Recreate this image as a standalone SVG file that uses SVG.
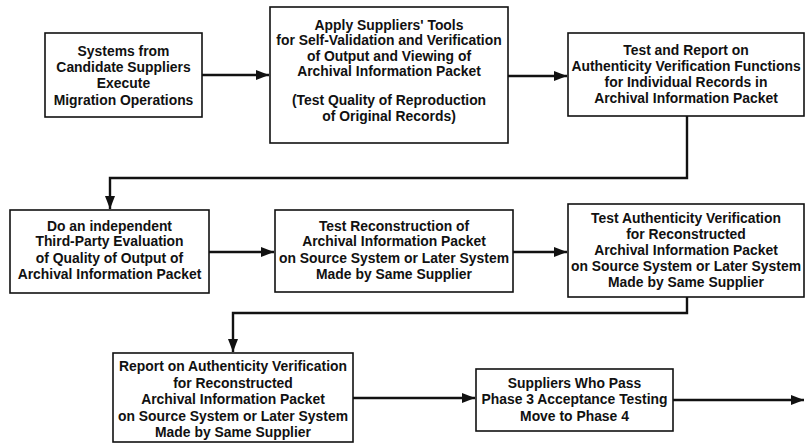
<svg xmlns="http://www.w3.org/2000/svg" width="805" height="445" viewBox="0 0 805 445">
<defs>
<marker id="ah" viewBox="0 0 13 10" refX="13" refY="5" markerWidth="13" markerHeight="10" markerUnits="userSpaceOnUse" orient="auto">
<path d="M0,0 L13,5 L0,10 Z" fill="#111"/>
</marker>
<style>
.box{fill:#fff;stroke:#111;stroke-width:1.6}
.t{font-family:"Liberation Sans",Arial,sans-serif;font-weight:bold;font-size:13.9px;fill:#111;text-anchor:middle}
.c{fill:none;stroke:#111;stroke-width:2.4;marker-end:url(#ah)}
</style>
</defs>
<rect width="805" height="445" fill="#fff"/>
<g id="connectors">
<path class="c" d="M202,75 H269"/>
<path class="c" d="M508,76 H567"/>
<path class="c" d="M687,116 V178 H110 V209"/>
<path class="c" d="M209,252 H274"/>
<path class="c" d="M513,252 H567"/>
<path class="c" d="M687,297 V313 H233 V352"/>
<path class="c" d="M353,398 H475"/>
<path class="c" d="M673,400 H804"/>
</g>
<g id="n1">
<rect class="box" x="45" y="33" width="157" height="84"/>
<text class="t" x="123.5" y="55.5">Systems from</text>
<text class="t" x="123.5" y="72">Candidate Suppliers</text>
<text class="t" x="123.5" y="88">Execute</text>
<text class="t" x="123.5" y="104.5">Migration Operations</text>
</g>
<g id="n2">
<rect class="box" x="270" y="7" width="238" height="136"/>
<text class="t" x="389" y="29.5">Apply Suppliers' Tools</text>
<text class="t" x="389" y="45">for Self-Validation and Verification</text>
<text class="t" x="389" y="60.5">of Output and Viewing of</text>
<text class="t" x="389" y="76">Archival Information Packet</text>
<text class="t" x="389" y="104.5">(Test Quality of Reproduction</text>
<text class="t" x="389" y="120.5">of Original Records)</text>
</g>
<g id="n3">
<rect class="box" x="568" y="33" width="236" height="83"/>
<text class="t" x="686" y="54.5">Test and Report on</text>
<text class="t" x="686" y="71">Authenticity Verification Functions</text>
<text class="t" x="686" y="87">for Individual Records in</text>
<text class="t" x="686" y="103">Archival Information Packet</text>
</g>
<g id="n4">
<rect class="box" x="10" y="210" width="199" height="83"/>
<text class="t" x="109.5" y="230.5">Do an independent</text>
<text class="t" x="109.5" y="246">Third-Party Evaluation</text>
<text class="t" x="109.5" y="262.5">of Quality of Output of</text>
<text class="t" x="109.5" y="279">Archival Information Packet</text>
</g>
<g id="n5">
<rect class="box" x="275" y="210" width="238" height="82"/>
<text class="t" x="394" y="230.5">Test Reconstruction of</text>
<text class="t" x="394" y="246">Archival Information Packet</text>
<text class="t" x="394" y="262.5">on Source System or Later System</text>
<text class="t" x="394" y="279">Made by Same Supplier</text>
</g>
<g id="n6">
<rect class="box" x="568" y="204" width="236" height="93"/>
<text class="t" x="686" y="223">Test Authenticity Verification</text>
<text class="t" x="686" y="239">for Reconstructed</text>
<text class="t" x="686" y="254.5">Archival Information Packet</text>
<text class="t" x="686" y="270.5">on Source System or Later System</text>
<text class="t" x="686" y="287">Made by Same Supplier</text>
</g>
<g id="n7">
<rect class="box" x="113" y="353" width="240" height="89"/>
<text class="t" x="233" y="371">Report on Authenticity Verification</text>
<text class="t" x="233" y="388">for Reconstructed</text>
<text class="t" x="233" y="404">Archival Information Packet</text>
<text class="t" x="233" y="420.5">on Source System or Later System</text>
<text class="t" x="233" y="437">Made by Same Supplier</text>
</g>
<g id="n8">
<rect class="box" x="476" y="369" width="197" height="62"/>
<text class="t" x="574.5" y="388">Suppliers Who Pass</text>
<text class="t" x="574.5" y="404">Phase 3 Acceptance Testing</text>
<text class="t" x="574.5" y="420.5">Move to Phase 4</text>
</g>
</svg>
